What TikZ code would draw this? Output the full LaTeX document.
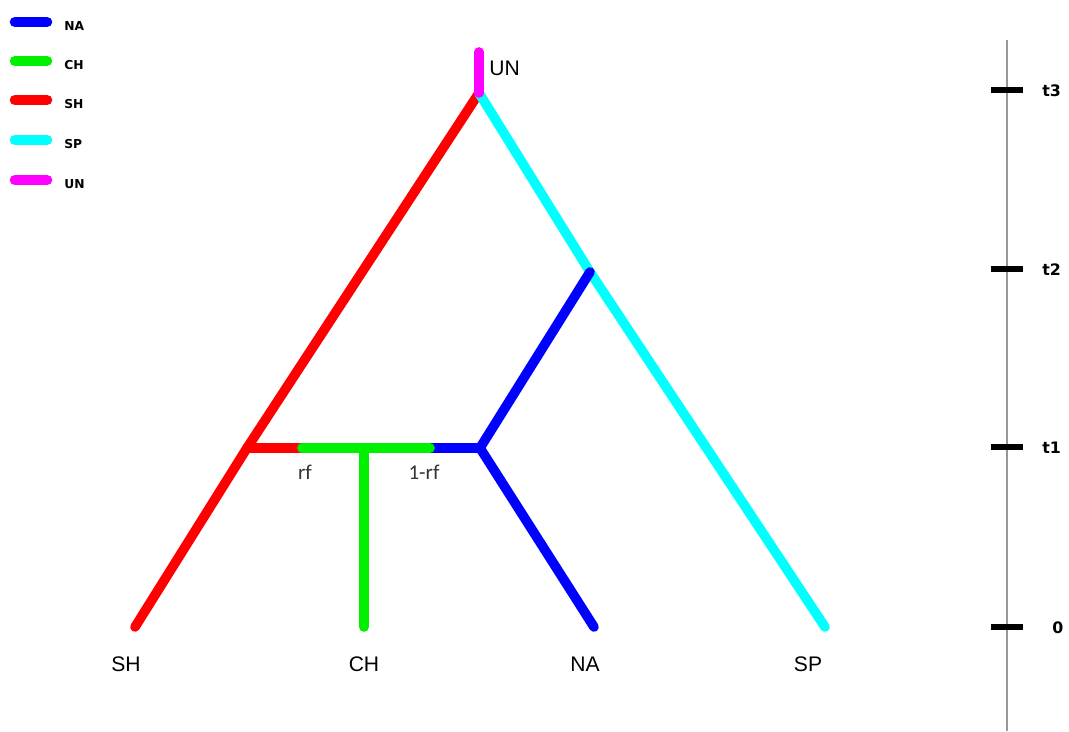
\documentclass[tikz,border=0pt]{standalone}
\usepackage{fontspec}
\setmainfont{Liberation Sans}
\newfontfamily\keyfont{DejaVu Sans}
\newfontfamily\calfont{Carlito}
\usetikzlibrary{calc}
\definecolor{naC}{RGB}{0,0,255}
\definecolor{chC}{RGB}{0,240,0}
\definecolor{shC}{RGB}{255,0,0}
\definecolor{spC}{RGB}{0,255,255}
\definecolor{unC}{RGB}{255,0,255}
\definecolor{axisC}{RGB}{150,150,150}

\begin{document}
\begin{tikzpicture}[x=0.02cm, y=-0.02cm, every node/.style={font=\large},
  branch/.style={line width=5.5pt, line cap=round},
  key/.style={line width=6pt, line cap=round},
  keylabel/.style={anchor=west, font=\keyfont\bfseries\scriptsize, inner sep=0pt},
  tick/.style={line width=3pt},
  ticklabel/.style={anchor=west, font=\keyfont\bfseries\small, inner sep=0pt}]
  \useasboundingbox (0,0) rectangle (1069,731);
  \coordinate (unTop) at (479,52);
  \coordinate (root) at (479,93);
  \coordinate (nsp) at (590,272);
  \coordinate (hyb) at (480,448);
  \coordinate (shJ) at (247,448);
  \coordinate (rfL) at (302,448);
  \coordinate (rfR) at (430,448);
  \coordinate (chJ) at (364,448);
  \coordinate (shTip) at (135,627);
  \coordinate (chTip) at (364,627);
  \coordinate (naTip) at (594,627);
  \coordinate (spTip) at (825,627);
  \draw[branch, shC] (root) -- (shJ) -- (shTip);
  \draw[branch, spC] (root) -- (nsp) -- (spTip);
  \draw[branch, naC] (nsp) -- (hyb) -- (naTip);
  \draw[branch, naC] (rfR) -- (hyb);
  \draw[branch, shC] (shJ) -- (rfL);
  \draw[branch, chC] (rfL) -- (rfR);
  \draw[branch, chC] (chJ) -- (chTip);
  \draw[branch, unC] (unTop) -- (root);
  \node[anchor=west, inner sep=0pt] (unLab) at (489,68) {UN};
  \node[font=\calfont\large, text=black!80, inner sep=0pt] (rfLab) at (305,472) {rf};
  \node[font=\calfont\large, text=black!80, inner sep=0pt] (rfLab2) at (424,472) {1-rf};
  \node[inner sep=0pt] (shLab) at (126,664) {SH};
  \node[inner sep=0pt] (chLab) at (364,664) {CH};
  \node[inner sep=0pt] (naLab) at (585,664) {NA};
  \node[inner sep=0pt] (spLab) at (808,664) {SP};
  \foreach \nm/\col/\yy in {NA/naC/22, CH/chC/61, SH/shC/100, SP/spC/140, UN/unC/180} {
    \coordinate (key\nm a) at (15,\yy);
    \coordinate (key\nm b) at (47,\yy);
    \draw[key, \col] (key\nm a) -- (key\nm b);
    \node[keylabel] (key\nm) at (64,\yy+4) {\nm};
  }
  \coordinate (axTop) at (1007,40);
  \coordinate (axBot) at (1007,731);
  \draw[axisC, line width=1.5pt] (axTop) -- (axBot);
  \foreach \nm/\yy/\lx in {t3/90/1042, t2/269/1042, t1/447/1042, 0/627/1052} {
    \coordinate (tick\nm a) at (991,\yy);
    \coordinate (tick\nm b) at (1023,\yy);
    \draw[tick] (tick\nm a) -- (tick\nm b);
    \node[ticklabel] (tick\nm) at (\lx,\yy+1) {\nm};
  }
\end{tikzpicture}
\end{document}
